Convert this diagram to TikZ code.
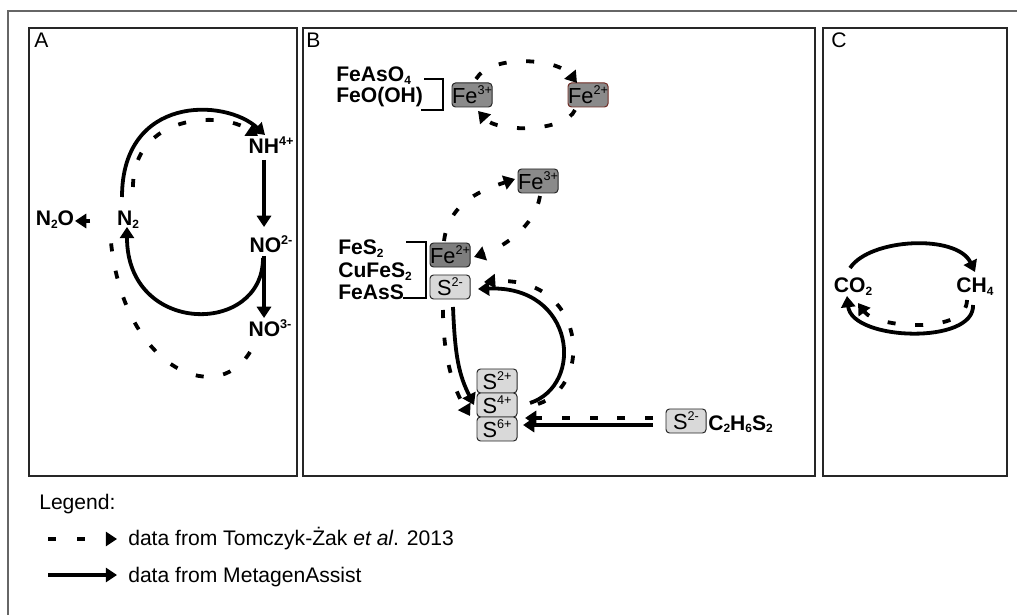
\documentclass[tikz,border=0pt]{standalone}
\usepackage{fontspec}
\setmainfont{Liberation Sans}
\usetikzlibrary{arrows.meta,calc,positioning}
\newcommand{\chup}[1]{\raisebox{0.4em}{\fontsize{9}{9}\selectfont #1}}
\newcommand{\chdn}[1]{\raisebox{-0.12em}{\fontsize{8.5}{9}\selectfont #1}}
\definecolor{fedark}{HTML}{8A8A8A}
\definecolor{fedeep}{HTML}{7E7E7E}
\definecolor{slight}{HTML}{D9D9D9}
\definecolor{ferim}{HTML}{6E2A22}
\begin{document}
\begin{tikzpicture}[
  x=0.025cm, y=-0.025cm,
  panel/.style={draw=black!85, line width=1.1pt},
  chem/.style={font=\fontsize{15}{18}\selectfont\bfseries, inner sep=0pt},
  txt/.style={font=\fontsize{15}{18}\selectfont, inner sep=0pt},
  ion/.style={rectangle, rounded corners=2.5pt, draw=black!85, line width=0.7pt,
    minimum width=1cm, minimum height=0.6cm, inner sep=0pt, font=\fontsize{15.5}{18}\selectfont},
  brk/.style={line width=1.6pt},
  flux/.style={line width=2.7pt, -{Triangle[length=8pt,width=10pt]}},
  fluxd/.style={flux, dash pattern=on 5.7pt off 14pt}
]
\useasboundingbox (0,0) rectangle (1017,615);
\draw[black!60, line width=0.9pt] (1017,11) -- (8,11) -- (8,615);
\draw[panel] (29,28) rectangle (297,476);
\draw[panel] (303,28) rectangle (815,476);
\draw[panel] (823,28) rectangle (1007,476);
\node[txt, anchor=base west] (pa) at (34,48) {A};
\node[txt, anchor=base west] (pb) at (306,48) {B};
\node[txt, anchor=base west] (pc) at (831,48) {C};

% A
\node[chem, anchor=base] (nh) at (271,154) {NH\chup{4+}};
\node[chem, anchor=base] (n2) at (128,226) {N\chdn{2}};
\node[chem, anchor=base] (n2o) at (55,226) {N\chdn{2}O};
\node[chem, anchor=base] (no2) at (271,253) {NO\chup{2-}};
\node[chem, anchor=base] (no3) at (270,337) {NO\chup{3-}};
\draw[flux] ($(n2.base)+(-6,-29)$) .. controls +(0,-102) and +(-40,-37) .. ($(nh.base)+(-6,-19)$);
\draw[fluxd] ($(n2.base)+(5,-39)$) .. controls +(0,-72) and +(-38,-26) .. ($(nh.base)+(-13,-18)$);
\draw[flux] ($(nh.base)+(-7,6)$) -- ($(no2.base)+(-7,-26)$);
\draw[flux] ($(no2.base)+(-7,3)$) -- ($(no3.base)+(-6,-19)$);
\draw[flux] ($(no2.base)+(-8,5)$) .. controls +(0,78) and +(0,109) .. ($(n2.base)+(-1,1)$);
\draw[line width=2.7pt, dash pattern=on 5.7pt off 14pt] ($(no3.base)+(-20,15)$) .. controls +(-35,58) and +(8,135) .. ($(n2.base)+(-18,4)$);
\draw[flux] ($(n2.base)+(-38,-5)$) -- ($(n2o.base)+(20,-5)$);

% B
\node[ion, fill=fedark] (fe3a) at (472,95) {Fe\chup{3+}};
\node[ion, fill=fedark, draw=ferim] (fe2a) at (588,95) {Fe\chup{2+}};
\node[ion, fill=fedark] (fe3b) at (538,181) {Fe\chup{3+}};
\node[ion, fill=fedeep] (fe2b) at (450,255) {Fe\chup{2+}};
\node[ion, fill=slight] (s2a) at (450,287) {S\chup{2-}};
\node[ion, fill=slight] (s2p) at (497,381) {S\chup{2+}};
\node[ion, fill=slight] (s4p) at (497,405) {S\chup{4+}};
\node[ion, fill=slight] (s6p) at (497,429) {S\chup{6+}};
\node[ion, fill=slight] (s2b) at (686,421) {S\chup{2-}};
\node[chem, anchor=base west] (feaso) at (336,82) {FeAsO\chdn{4}};
\node[chem, anchor=base west] (feooh) at (336,103) {FeO(OH)};
\node[chem, anchor=base west] (fes) at (338,255) {FeS\chdn{2}};
\node[chem, anchor=base west] (cufes) at (338,278) {CuFeS\chdn{2}};
\node[chem, anchor=base west] (feass) at (338,300) {FeAsS};
\node[chem, anchor=base west] (dms) at (708,430) {C\chdn{2}H\chdn{6}S\chdn{2}};
\draw[brk] (424,79) -| (443,110) -- (421,110);
\draw[brk] (406,242) -| (426,298) -- (403,298);
\draw[fluxd] ($(fe3a)+(4,-16)$) .. controls +(15,-25) and +(-20,-25) .. ($(fe2a)+(-11,-12)$);
\draw[fluxd] ($(fe2a)+(-13,15)$) .. controls +(-10,22) and +(20,22) .. ($(fe3a)+(6,16)$);
\draw[fluxd] ($(fe2b)+(-6,-14)$) .. controls +(5,-40) and +(-30,10) .. ($(fe3b)+(-23,-2)$);
\draw[fluxd] ($(fe3b)+(2,15)$) .. controls +(-5,30) and +(30,-10) .. ($(fe2b)+(24,2)$);
\draw[flux] ($(s2a)+(3,20)$) .. controls +(2,50) and +(-15,-30) .. ($(s4p)+(-23,0)$);
\draw[fluxd] ($(s2a)+(-7,23)$) .. controls +(0,50) and +(-15,-25) .. ($(s4p)+(-27,11)$);
\draw[flux] ($(s4p)+(33,-2)$) .. controls +(55,-18) and +(97,-4) .. ($(s2a)+(28,2)$);
\draw[fluxd] ($(s4p)+(41,-1)$) .. controls +(57,-19) and +(101,-7) .. ($(s2a)+(34,-5)$);
\draw[flux] ($(s2b)+(-33,4)$) -- ($(s6p)+(26,-4)$);
\draw[fluxd] ($(s2b)+(-33,-3)$) -- ($(s6p)+(28,-11)$);

% C
\node[chem, anchor=base] (co2) at (853,293) {CO\chdn{2}};
\node[chem, anchor=base] (ch4) at (975,293) {CH\chdn{4}};
\draw[flux] ($(co2.base)+(-3,-25)$) .. controls +(20,-30) and +(-18,-38) .. ($(ch4.base)+(0,-21)$);
\draw[flux] ($(ch4.base)+(-2,12)$) .. controls +(2,40) and +(5,45) .. ($(co2.base)+(-6,3)$);
\draw[fluxd] ($(ch4.base)+(-8,7)$) .. controls +(0,35) and +(18,25) .. ($(co2.base)+(5,10)$);

% legend
\node[txt, anchor=base west] (legend) at (39,509) {Legend:};
\node[txt, anchor=base west] (leg1) at (128,545) {data from Tomczyk-Żak \textit{et al}. 2013};
\node[txt, anchor=base west] (leg2) at (128,582) {data from MetagenAssist};
\coordinate (lg1) at (48,539);
\coordinate (lg2) at (48,575);
\draw[flux, dash pattern=on 5.7pt off 15pt] (lg1) -- ($(leg1.base west)+(-11,-6)$);
\draw[flux] (lg2) -- ($(leg2.base west)+(-11,-7)$);
\end{tikzpicture}
\end{document}
